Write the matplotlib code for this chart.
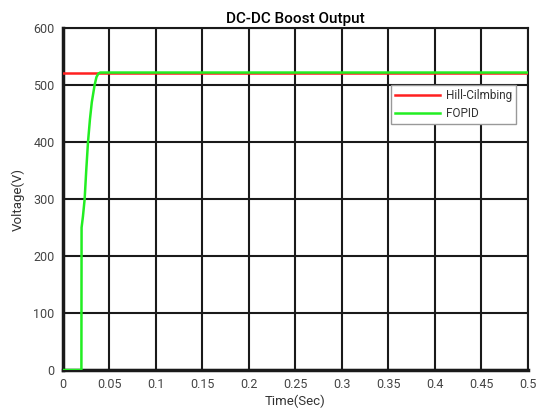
import matplotlib
matplotlib.use("Agg")
import matplotlib.pyplot as plt

plt.rcParams['font.family'] = ['Roboto', 'DejaVu Sans']

# series
t_hill = [0.0, 0.5]
v_hill = [522, 522]

t_fopid = [0.0, 0.0198, 0.0200, 0.0215, 0.0233, 0.0250, 0.0269, 0.0290,
           0.0310, 0.0340, 0.0360, 0.0380, 0.0400, 0.5]
v_fopid = [0, 0, 250, 270, 300, 350, 400, 440, 470, 500, 514, 520, 522, 522]

x_ticks = [0, 0.05, 0.1, 0.15, 0.2, 0.25, 0.3, 0.35, 0.4, 0.45, 0.5]
x_labels = ["0", "0.05", "0.1", "0.15", "0.2", "0.25", "0.3", "0.35", "0.4", "0.45", "0.5"]
y_ticks = [0, 100, 200, 300, 400, 500, 600]

fig = plt.figure(figsize=(5.36, 4.13), dpi=100)
ax = fig.add_axes([0.1175, 0.104, 0.8675, 0.828])

ax.plot(t_hill, v_hill, color="#ff2020", lw=1.8, label="Hill-Cilmbing", zorder=3)
ax.plot(t_fopid, v_fopid, color="#22ee22", lw=1.8, label="FOPID", zorder=4)

ax.set_xlim(0, 0.5)
ax.set_ylim(0, 600)
ax.set_xticks(x_ticks)
ax.set_xticklabels(x_labels)
ax.set_yticks(y_ticks)
ax.tick_params(length=0, labelsize=9, colors="#444444", pad=6)
ax.grid(True, color="#1a1a1a", lw=1.5)
ax.set_axisbelow(True)

for side in ["top", "right"]:
    ax.spines[side].set_linewidth(1.5)
    ax.spines[side].set_color("#1a1a1a")
for side in ["left", "bottom"]:
    ax.spines[side].set_linewidth(2.5)
    ax.spines[side].set_color("#1a1a1a")

ax.set_title("DC-DC Boost Output", fontsize=11, fontweight="medium", pad=4)
ax.set_xlabel("Time(Sec)", fontsize=9.5, color="#333333", labelpad=2)
ax.set_ylabel("Voltage(V)", fontsize=9.5, color="#333333", labelpad=6)

leg = ax.legend(loc="upper left", bbox_to_anchor=(0.705, 0.835), fontsize=8.5,
                fancybox=False, framealpha=1, edgecolor="#999999",
                handlelength=3.8, borderpad=0.35, labelspacing=0.45,
                handletextpad=0.5, borderaxespad=0)
leg.get_frame().set_linewidth(1.0)
for txt in leg.get_texts():
    txt.set_color("#333333")

fig.savefig("out.png", dpi=100, facecolor="white")
